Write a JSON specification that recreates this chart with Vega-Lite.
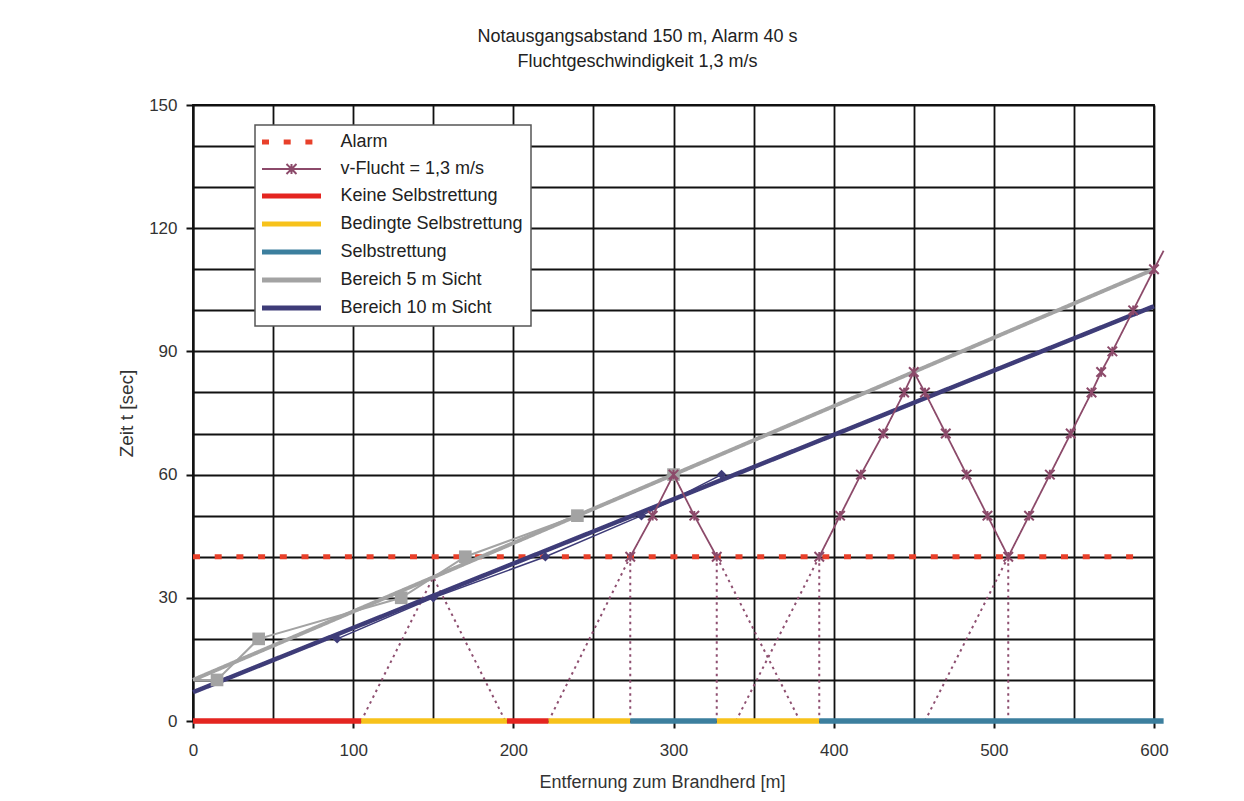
{
  "$schema": "https://vega.github.io/schema/vega-lite/v6.json",
  "width": 961,
  "height": 616,
  "autosize": {"type": "none"},
  "padding": {"left": 193, "top": 105, "right": 90, "bottom": 80},
  "background": "white",
  "title": {
    "text": ["Notausgangsabstand 150 m, Alarm 40 s", "Fluchtgeschwindigkeit 1,3 m/s"],
    "font": "Liberation Sans",
    "fontSize": 18,
    "fontWeight": "normal",
    "color": "#222222",
    "lineHeight": 25,
    "offset": 25,
    "dx": -36,
    "anchor": "middle"
  },
  "config": {
    "view": {"stroke": "#111111", "strokeWidth": 1.8},
    "axis": {
      "labelFont": "Liberation Sans",
      "titleFont": "Liberation Sans",
      "labelFontSize": 17,
      "titleFontSize": 18,
      "titleFontWeight": "normal",
      "labelColor": "#333333",
      "titleColor": "#333333",
      "gridColor": "#111111",
      "gridWidth": 1.8,
      "gridOpacity": 1,
      "domainColor": "#111111",
      "domainWidth": 2,
      "tickColor": "#111111",
      "tickWidth": 2,
      "tickSize": 7
    }
  },
  "data": {
    "values": [
      {"k": "alarm", "s": "Alarm", "g": "a1", "x": 0, "y": 40},
      {"k": "alarm", "s": "Alarm", "g": "a1", "x": 592, "y": 40},

      {"k": "red", "s": "Keine Selbstrettung", "g": "r1", "x": 0, "y": 0},
      {"k": "red", "s": "Keine Selbstrettung", "g": "r1", "x": 105, "y": 0},
      {"k": "red", "s": "Keine Selbstrettung", "g": "r2", "x": 196, "y": 0},
      {"k": "red", "s": "Keine Selbstrettung", "g": "r2", "x": 222, "y": 0},
      {"k": "yellow", "s": "Bedingte Selbstrettung", "g": "y1", "x": 105, "y": 0},
      {"k": "yellow", "s": "Bedingte Selbstrettung", "g": "y1", "x": 196, "y": 0},
      {"k": "yellow", "s": "Bedingte Selbstrettung", "g": "y2", "x": 222, "y": 0},
      {"k": "yellow", "s": "Bedingte Selbstrettung", "g": "y2", "x": 273, "y": 0},
      {"k": "yellow", "s": "Bedingte Selbstrettung", "g": "y3", "x": 327, "y": 0},
      {"k": "yellow", "s": "Bedingte Selbstrettung", "g": "y3", "x": 391, "y": 0},
      {"k": "teal", "s": "Selbstrettung", "g": "t1", "x": 273, "y": 0},
      {"k": "teal", "s": "Selbstrettung", "g": "t1", "x": 327, "y": 0},
      {"k": "teal", "s": "Selbstrettung", "g": "t2", "x": 391, "y": 0},
      {"k": "teal", "s": "Selbstrettung", "g": "t2", "x": 606, "y": 0},

      {"k": "gray", "s": "Bereich 5 m Sicht", "g": "gl", "x": 0, "y": 10},
      {"k": "gray", "s": "Bereich 5 m Sicht", "g": "gl", "x": 600, "y": 110},
      {"k": "navy", "s": "Bereich 10 m Sicht", "g": "nl", "x": 0, "y": 7},
      {"k": "navy", "s": "Bereich 10 m Sicht", "g": "nl", "x": 600, "y": 101},

      {"k": "graym", "s": "Bereich 5 m Sicht", "g": "gm", "x": 0, "y": 10},
      {"k": "graym", "s": "Bereich 5 m Sicht", "g": "gm", "x": 15, "y": 10},
      {"k": "graym", "s": "Bereich 5 m Sicht", "g": "gm", "x": 41, "y": 20},
      {"k": "graym", "s": "Bereich 5 m Sicht", "g": "gm", "x": 130, "y": 30},
      {"k": "graym", "s": "Bereich 5 m Sicht", "g": "gm", "x": 170, "y": 40},
      {"k": "graym", "s": "Bereich 5 m Sicht", "g": "gm", "x": 240, "y": 50},
      {"k": "graym", "s": "Bereich 5 m Sicht", "g": "gm", "x": 300, "y": 60},

      {"k": "navym", "s": "Bereich 10 m Sicht", "g": "nm", "x": 90, "y": 20},
      {"k": "navym", "s": "Bereich 10 m Sicht", "g": "nm", "x": 150, "y": 30},
      {"k": "navym", "s": "Bereich 10 m Sicht", "g": "nm", "x": 220, "y": 40},
      {"k": "navym", "s": "Bereich 10 m Sicht", "g": "nm", "x": 280, "y": 50},
      {"k": "navym", "s": "Bereich 10 m Sicht", "g": "nm", "x": 330, "y": 60},

      {"k": "vf", "s": "v-Flucht = 1,3 m/s", "g": "v1", "x": 273, "y": 40},
      {"k": "vf", "s": "v-Flucht = 1,3 m/s", "g": "v1", "x": 287, "y": 50},
      {"k": "vf", "s": "v-Flucht = 1,3 m/s", "g": "v1", "x": 300, "y": 60},
      {"k": "vf", "s": "v-Flucht = 1,3 m/s", "g": "v1", "x": 313, "y": 50},
      {"k": "vf", "s": "v-Flucht = 1,3 m/s", "g": "v1", "x": 327, "y": 40},
      {"k": "vf", "s": "v-Flucht = 1,3 m/s", "g": "v2", "x": 391, "y": 40},
      {"k": "vf", "s": "v-Flucht = 1,3 m/s", "g": "v2", "x": 404, "y": 50},
      {"k": "vf", "s": "v-Flucht = 1,3 m/s", "g": "v2", "x": 417, "y": 60},
      {"k": "vf", "s": "v-Flucht = 1,3 m/s", "g": "v2", "x": 431, "y": 70},
      {"k": "vf", "s": "v-Flucht = 1,3 m/s", "g": "v2", "x": 444, "y": 80},
      {"k": "vf", "s": "v-Flucht = 1,3 m/s", "g": "v2", "x": 450, "y": 85},
      {"k": "vf", "s": "v-Flucht = 1,3 m/s", "g": "v2", "x": 457, "y": 80},
      {"k": "vf", "s": "v-Flucht = 1,3 m/s", "g": "v2", "x": 470, "y": 70},
      {"k": "vf", "s": "v-Flucht = 1,3 m/s", "g": "v2", "x": 483, "y": 60},
      {"k": "vf", "s": "v-Flucht = 1,3 m/s", "g": "v2", "x": 496, "y": 50},
      {"k": "vf", "s": "v-Flucht = 1,3 m/s", "g": "v2", "x": 509, "y": 40},
      {"k": "vf", "s": "v-Flucht = 1,3 m/s", "g": "v2", "x": 522, "y": 50},
      {"k": "vf", "s": "v-Flucht = 1,3 m/s", "g": "v2", "x": 535, "y": 60},
      {"k": "vf", "s": "v-Flucht = 1,3 m/s", "g": "v2", "x": 548, "y": 70},
      {"k": "vf", "s": "v-Flucht = 1,3 m/s", "g": "v2", "x": 561, "y": 80},
      {"k": "vf", "s": "v-Flucht = 1,3 m/s", "g": "v2", "x": 567, "y": 85},
      {"k": "vf", "s": "v-Flucht = 1,3 m/s", "g": "v2", "x": 574, "y": 90},
      {"k": "vf", "s": "v-Flucht = 1,3 m/s", "g": "v2", "x": 587, "y": 100},
      {"k": "vf", "s": "v-Flucht = 1,3 m/s", "g": "v2", "x": 600, "y": 110},
      {"k": "vfend", "s": "v-Flucht = 1,3 m/s", "g": "v2", "x": 606, "y": 114.5},

      {"k": "dot", "s": "v-Flucht = 1,3 m/s", "g": "d1", "x": 105, "y": 0},
      {"k": "dot", "s": "v-Flucht = 1,3 m/s", "g": "d1", "x": 150, "y": 35},
      {"k": "dot", "s": "v-Flucht = 1,3 m/s", "g": "d1", "x": 195, "y": 0},
      {"k": "dot", "s": "v-Flucht = 1,3 m/s", "g": "d2", "x": 222, "y": 0},
      {"k": "dot", "s": "v-Flucht = 1,3 m/s", "g": "d2", "x": 273, "y": 40},
      {"k": "dot", "s": "v-Flucht = 1,3 m/s", "g": "d3", "x": 273, "y": 40},
      {"k": "dot", "s": "v-Flucht = 1,3 m/s", "g": "d3", "x": 273, "y": 0},
      {"k": "dot", "s": "v-Flucht = 1,3 m/s", "g": "d4", "x": 327, "y": 40},
      {"k": "dot", "s": "v-Flucht = 1,3 m/s", "g": "d4", "x": 327, "y": 0},
      {"k": "dot", "s": "v-Flucht = 1,3 m/s", "g": "d5", "x": 327, "y": 40},
      {"k": "dot", "s": "v-Flucht = 1,3 m/s", "g": "d5", "x": 379, "y": 0},
      {"k": "dot", "s": "v-Flucht = 1,3 m/s", "g": "d6", "x": 339, "y": 0},
      {"k": "dot", "s": "v-Flucht = 1,3 m/s", "g": "d6", "x": 391, "y": 40},
      {"k": "dot", "s": "v-Flucht = 1,3 m/s", "g": "d7", "x": 391, "y": 40},
      {"k": "dot", "s": "v-Flucht = 1,3 m/s", "g": "d7", "x": 391, "y": 0},
      {"k": "dot", "s": "v-Flucht = 1,3 m/s", "g": "d8", "x": 457, "y": 0},
      {"k": "dot", "s": "v-Flucht = 1,3 m/s", "g": "d8", "x": 509, "y": 40},
      {"k": "dot", "s": "v-Flucht = 1,3 m/s", "g": "d9", "x": 509, "y": 40},
      {"k": "dot", "s": "v-Flucht = 1,3 m/s", "g": "d9", "x": 509, "y": 0}
    ]
  },
  "encoding": {
    "x": {
      "field": "x",
      "type": "quantitative",
      "scale": {"domain": [0, 600], "nice": false, "zero": false},
      "axis": {
        "values": [0, 50, 100, 150, 200, 250, 300, 350, 400, 450, 500, 550, 600],
        "labelExpr": "datum.value % 100 === 0 ? datum.label : ''",
        "tickOpacity": {"condition": {"test": "datum.value % 100 === 0", "value": 1}, "value": 0},
        "labelPadding": 14,
        "labelFlush": false,
        "labelOverlap": false,
        "title": "Entfernung zum Brandherd [m]",
        "titleX": 469,
        "titleY": 66,
        "titleAlign": "center",
        "titleBaseline": "alphabetic"
      }
    },
    "y": {
      "field": "y",
      "type": "quantitative",
      "scale": {"domain": [0, 150], "nice": false},
      "axis": {
        "values": [0, 10, 20, 30, 40, 50, 60, 70, 80, 90, 100, 110, 120, 130, 140, 150],
        "labelExpr": "datum.value % 30 === 0 ? datum.label : ''",
        "tickOpacity": {"condition": {"test": "datum.value % 30 === 0", "value": 1}, "value": 0},
        "labelPadding": 9,
        "labelFlush": false,
        "labelOverlap": false,
        "title": "Zeit t [sec]",
        "titleFontSize": 19,
        "titleAngle": -90,
        "titleX": -67,
        "titleY": 308,
        "titleAlign": "center",
        "titleBaseline": "middle"
      }
    }
  },
  "layer": [
    {
      "transform": [{"filter": "datum.k === 'dot'"}],
      "mark": {"type": "line", "color": "#8E4F70", "strokeWidth": 2, "strokeDash": [2.5, 4]},
      "encoding": {"detail": {"field": "g"}}
    },
    {
      "transform": [{"filter": "datum.k === 'red' || datum.k === 'yellow' || datum.k === 'teal'"}],
      "mark": {"type": "line", "strokeWidth": 5.5, "strokeCap": "butt"},
      "encoding": {
        "detail": {"field": "g"},
        "color": {
          "field": "s",
          "type": "nominal",
          "scale": {
            "domain": ["Alarm", "v-Flucht = 1,3 m/s", "Keine Selbstrettung", "Bedingte Selbstrettung", "Selbstrettung", "Bereich 5 m Sicht", "Bereich 10 m Sicht"],
            "range": ["#E8402A", "#8C4A6A", "#E42520", "#F7C21B", "#3C7F9E", "#A3A3A3", "#3E3C78"]
          },
          "legend": {
            "title": null,
            "orient": "none",
            "legendX": 62,
            "legendY": 20,
            "padding": 8,
            "fillColor": "white",
            "strokeColor": "#555555",
            "cornerRadius": 0,
            "symbolType": "M-2.95,0L2.95,0",
            "symbolSize": 400,
            "symbolOffset": 19.5,
            "symbolStrokeWidth": 5,
            "rowPadding": 8,
            "labelFont": "Liberation Sans",
            "labelFontSize": 18,
            "labelColor": "#222222",
            "labelOffset": 40,
            "labelLimit": 400,
            "encode": {
              "legend": {"update": {"strokeWidth": {"value": 1.5}}},
              "symbols": {
                "update": {
                  "strokeWidth": {"signal": "datum.value === 'v-Flucht = 1,3 m/s' ? 2 : 5"},
                  "shape": {"signal": "datum.value === 'v-Flucht = 1,3 m/s' ? 'M-2.95,0L2.95,0M-0.5,-0.5L0.5,0.5M-0.5,0.5L0.5,-0.5M0,-0.5L0,0.5' : 'M-2.95,0L2.95,0'"}
                }
              }
            }
          }
        },
        "strokeDash": {
          "field": "s",
          "type": "nominal",
          "scale": {
            "domain": ["Alarm", "v-Flucht = 1,3 m/s", "Keine Selbstrettung", "Bedingte Selbstrettung", "Selbstrettung", "Bereich 5 m Sicht", "Bereich 10 m Sicht"],
            "range": [[7, 14.7], [1, 0], [1, 0], [1, 0], [1, 0], [1, 0], [1, 0]]
          },
          "legend": null
        }
      }
    },
    {
      "transform": [{"filter": "datum.k === 'alarm'"}],
      "mark": {"type": "line", "strokeWidth": 5, "strokeCap": "butt"},
      "encoding": {
        "detail": {"field": "g"},
        "color": {"field": "s", "type": "nominal"},
        "strokeDash": {"field": "s", "type": "nominal", "legend": null}
      }
    },
    {
      "transform": [{"filter": "datum.k === 'navy'"}],
      "mark": {"type": "line", "strokeWidth": 4.5},
      "encoding": {
        "detail": {"field": "g"},
        "color": {"field": "s", "type": "nominal"},
        "strokeDash": {"field": "s", "type": "nominal", "legend": null}
      }
    },
    {
      "transform": [{"filter": "datum.k === 'gray'"}],
      "mark": {"type": "line", "strokeWidth": 4},
      "encoding": {
        "detail": {"field": "g"},
        "color": {"field": "s", "type": "nominal"},
        "strokeDash": {"field": "s", "type": "nominal", "legend": null}
      }
    },
    {
      "transform": [{"filter": "datum.k === 'navym'"}],
      "mark": {"type": "line", "color": "#3E3C78", "strokeWidth": 1.5},
      "encoding": {"detail": {"field": "g"}}
    },
    {
      "transform": [{"filter": "datum.k === 'navym'"}],
      "mark": {"type": "point", "shape": "diamond", "filled": true, "color": "#3E3C78", "size": 90, "opacity": 1}
    },
    {
      "transform": [{"filter": "datum.k === 'graym'"}],
      "mark": {"type": "line", "color": "#A3A3A3", "strokeWidth": 2},
      "encoding": {"detail": {"field": "g"}}
    },
    {
      "transform": [{"filter": "datum.k === 'graym' && datum.x > 0"}],
      "mark": {"type": "point", "shape": "square", "filled": true, "color": "#A3A3A3", "size": 160, "opacity": 1}
    },
    {
      "transform": [{"filter": "datum.k === 'vf' || datum.k === 'vfend'"}],
      "mark": {"type": "line", "strokeWidth": 1.8},
      "encoding": {
        "detail": {"field": "g"},
        "color": {"field": "s", "type": "nominal"},
        "strokeDash": {"field": "s", "type": "nominal", "legend": null}
      }
    },
    {
      "transform": [{"filter": "datum.k === 'vf'"}],
      "mark": {"type": "point", "shape": "M-1,-1L1,1M-1,1L1,-1M0,-1L0,1", "filled": false, "color": "#8C4A6A", "strokeWidth": 2, "size": 90, "opacity": 1}
    }
  ]
}
